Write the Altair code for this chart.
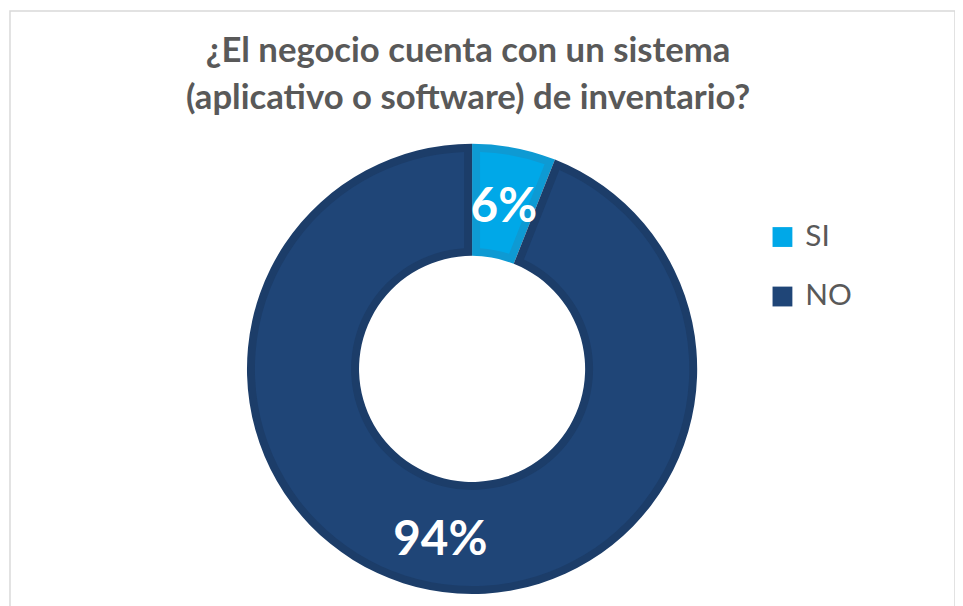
import altair as alt
import pandas as pd

categories = ["SI", "NO"]
values = [6, 94]
labels = ["6%", "94%"]
order = [0, 1]
main_colors = ["#00A8E8", "#1F4577"]
band_colors = ["#0E9AD3", "#1C3D69"]
title_lines = ["¿El negocio cuenta con un sistema", "(aplicativo o software) de inventario?"]

df = pd.DataFrame({"cat": categories, "val": values, "label": labels,
                   "band": band_colors, "ord": order})

W, H = 953, 700
cx, cy = 466, 361

base = alt.Chart(df).encode(
    theta=alt.Theta("val:Q", stack=True),
    order=alt.Order("ord:Q"),
    x=alt.value(cx),
    y=alt.value(cy),
)

band = base.mark_arc(outerRadius=227, innerRadius=114).encode(
    color=alt.Color("band:N", scale=None)
)

fill = base.mark_arc(outerRadius=219, innerRadius=122, padAngle=0.064).encode(
    color=alt.Color(
        "cat:N",
        sort=categories,
        scale=alt.Scale(domain=categories, range=main_colors),
        legend=alt.Legend(
            title=None, orient="none", legendX=764, legendY=213,
            symbolType="square", symbolSize=400, symbolStrokeWidth=0,
            labelFontSize=30, labelFont="Lato", labelColor="#595959",
            rowPadding=30, labelOffset=8, padding=0,
        ),
    )
)

text = base.mark_text(radius=171, dy=6, font="Lato", fontSize=48, fontWeight="bold",
                      color="white").encode(text="label:N")

chart = alt.layer(band, fill, text).resolve_scale(color="independent").properties(
    width=W, height=H,
    title=alt.TitleParams(
        text=title_lines, font="Lato", fontSize=35, fontWeight="bold",
        color="#595959", lineHeight=47, anchor="middle", dx=-14.5, offset=-106,
    ),
    autosize=alt.AutoSizeParams(type="none"),
    padding={"left": 2, "top": 0, "right": 0, "bottom": 0},
).configure_view(stroke="#D9D9D9", strokeWidth=1.5)

chart.save("out.html", embed_options={"renderer": "svg", "actions": False})
